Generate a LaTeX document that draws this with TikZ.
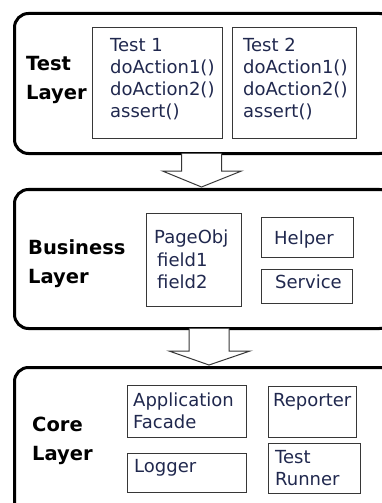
\documentclass[tikz,border=0pt]{standalone}
\usepackage{fontspec}
\setmainfont{DejaVu Sans}
\usetikzlibrary{calc}
\definecolor{textblue}{RGB}{32,40,78}
\definecolor{boxgray}{RGB}{55,55,55}
\tikzset{
  layerbox/.style={draw=black, line width=3bp, rounded corners=14bp, anchor=north west, inner sep=0pt},
  itembox/.style={draw=boxgray, line width=1.2bp, anchor=north west, inner sep=0pt},
  % multi-line texts are placed by the baseline of their last line
  itemtext/.style={anchor=base west, inner sep=0pt, text=textblue, align=left,
    font=\fontsize{18bp}{22bp}\selectfont},
  layertext/.style={anchor=base west, inner sep=0pt, text=black, align=left,
    font=\fontsize{19.5bp}{29bp}\selectfont\bfseries},
  blockarrow/.style={draw=boxgray, line width=1bp, fill=white, line join=miter}
}
\begin{document}
\begin{tikzpicture}[x=1bp, y=-1bp]
\useasboundingbox (0,0) rectangle (381,503);

% ---- layers ----
\node[layerbox, minimum width=379bp, minimum height=140bp] (L1) at (13,12) {};
\node[layerbox, minimum width=379bp, minimum height=139bp] (L2) at (13,188) {};
\node[layerbox, minimum width=379bp, minimum height=150bp] (L3) at (13,366) {};

% ---- test layer ----
\node[layertext] (t1) at (26,100) {Test\\Layer};
\node[itembox, minimum width=130bp, minimum height=111bp] (test1) at (92,27) {};
\node[itembox, minimum width=124bp, minimum height=111bp] (test2) at (232,27) {};
\node[itemtext] (test1txt) at (110,118) {Test 1\\doAction1()\\doAction2()\\assert()};
\node[itemtext] (test2txt) at (243,118) {Test 2\\doAction1()\\doAction2()\\assert()};

% ---- business layer ----
\node[layertext] (t2) at (28,283) {Business\\Layer};
\node[itembox, minimum width=95bp, minimum height=93bp] (page) at (146,213) {};
\node[itembox, minimum width=92bp, minimum height=40bp] (helper) at (261,217) {};
\node[itembox, minimum width=91bp, minimum height=34bp] (service) at (261,269) {};
\node[itemtext] (pagetxt) at (154,243) {PageObj};
\node[itemtext] (fieldtxt) at (157,288) {field1\\field2};
\node[itemtext] (helpertxt) at (274,244) {Helper};
\node[itemtext] (servicetxt) at (275,288) {Service};

% ---- core layer ----
\node[layertext] (t3) at (32,460) {Core\\Layer};
\node[itembox, minimum width=119bp, minimum height=52bp] (facade) at (127,385) {};
\node[itembox, minimum width=88bp, minimum height=51bp] (reporter) at (268,386) {};
\node[itembox, minimum width=119bp, minimum height=39bp] (logger) at (127,453) {};
\node[itembox, minimum width=92bp, minimum height=50bp] (runner) at (268,443) {};
\node[itemtext] (facadetxt) at (133,428) {Application\\Facade};
\node[itemtext] (reportertxt) at (273,406) {Reporter};
\node[itemtext] (loggertxt) at (134,472) {Logger};
\node[itemtext] (runnertxt) at (275,485) {Test\\Runner};

% ---- block arrows between layers ----
\coordinate (a1) at ($(L1.south)+(-2.5,0)$);
\coordinate (a1tip) at ($(L2.north)+(-2.5,-1)$);
\draw[blockarrow] ($(a1)+(-20,-1.5)$) -- ($(a1)+(-20,16)$) -- ($(a1)+(-39,16)$)
  -- (a1tip) -- ($(a1)+(40,16)$) -- ($(a1)+(20,16)$) -- ($(a1)+(20,-1.5)$);

\coordinate (a2) at ($(L2.south)+(5,0)$);
\coordinate (a2tip) at ($(L3.north)+(5,-1)$);
\draw[blockarrow] ($(a2)+(-20,-1.5)$) -- ($(a2)+(-20,21)$) -- ($(a2)+(-40,21)$)
  -- (a2tip) -- ($(a2)+(41,21)$) -- ($(a2)+(20,21)$) -- ($(a2)+(20,-1.5)$);
\end{tikzpicture}
\end{document}
